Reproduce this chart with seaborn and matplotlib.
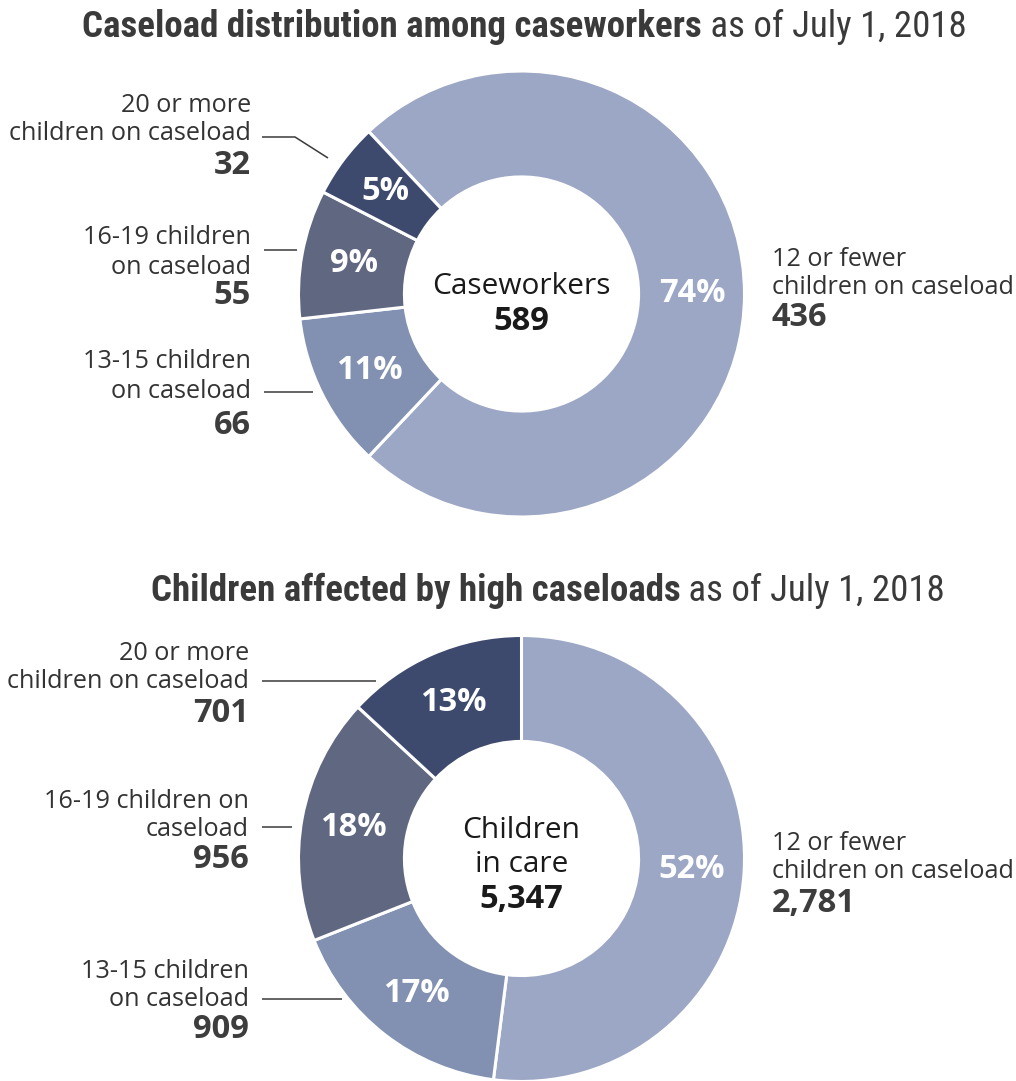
import matplotlib
matplotlib.use("Agg")
import matplotlib.pyplot as plt
import seaborn as sns
from matplotlib import font_manager

# ---- data -------------------------------------------------------------
caseworker_labels = [
    ["12 or fewer", "children on caseload"],
    ["13-15 children", "on caseload"],
    ["16-19 children", "on caseload"],
    ["20 or more", "children on caseload"],
]
caseworker_counts = [436, 66, 55, 32]

children_labels = [
    ["12 or fewer", "children on caseload"],
    ["13-15 children", "on caseload"],
    ["16-19 children on", "caseload"],
    ["20 or more", "children on caseload"],
]
children_counts = [2781, 909, 956, 701]

titles_bold = ["Caseload distribution among caseworkers",
               "Children affected by high caseloads"]
titles_regular = ["as of July 1, 2018", "as of July 1, 2018"]
center_titles = [["Caseworkers"], ["Children", "in care"]]

palette = ["#9CA7C5", "#8291B2", "#606780", "#3D4A6E"]

# ---- style ------------------------------------------------------------
sns.set_theme(style="white")
sns.set_palette(palette)
BODY = ["Open Sans", "DejaVu Sans"]
plt.rcParams["font.family"] = BODY

installed = {f.name for f in font_manager.fontManager.ttflist}
title_family = None
for cand in ["Roboto Condensed", "Liberation Sans Narrow", "Open Sans Condensed"]:
    if cand in installed:
        title_family = cand
        break
if title_family is None:
    title_family = "Roboto"
TITLE = [title_family, "DejaVu Sans"]

W, H = 1016, 1081
fig = plt.figure(figsize=(W / 100, H / 100), dpi=100)
fig.patch.set_facecolor("white")

# overlay in pixel coordinates for titles, labels and leader lines
ov = fig.add_axes([0, 0, 1, 1])
ov.set_xlim(0, W)
ov.set_ylim(H, 0)
ov.axis("off")

TXT = "#333333"
NUM = "#3d3d3d"


def donut(cx, cy, r, counts, start):
    ax = fig.add_axes([(cx - r) / W, (H - cy - r) / H, 2 * r / W, 2 * r / H])
    ax.pie(counts, colors=palette, startangle=start, counterclock=False,
           radius=1,
           wedgeprops=dict(width=0.475, edgecolor="white", linewidth=2.2),
           autopct=lambda p: f"{p:.0f}%", pctdistance=0.765,
           textprops=dict(color="white", fontsize=23.5, fontweight="bold",
                          family=BODY))
    ax.set_xlim(-1, 1)
    ax.set_ylim(-1, 1)
    ax.axis("off")
    return ax


def side_label(x, ys, lines, number, ha):
    for y, line in zip(ys[:-1], lines):
        ov.text(x, y, line, ha=ha, va="center", fontsize=18.2, color=TXT)
    ov.text(x, ys[-1], f"{number:,}", ha=ha, va="center", fontsize=23.5,
            fontweight="bold", color=NUM)


def leader(pts):
    xs, ys = zip(*pts)
    ov.plot(xs, ys, color="#3a3a3a", lw=1.1, solid_capstyle="butt")


# ---- top donut: caseworkers ------------------------------------------
tot1 = sum(caseworker_counts)
start1 = 360 * caseworker_counts[0] / tot1 / 2
donut(521.5, 294, 223, caseworker_counts, start1)
ov.text(521.5, 286, center_titles[0][0], ha="center", va="center",
        fontsize=21.5, color="#1a1a1a")
ov.text(521.5, 321, f"{tot1:,}", ha="center", va="center", fontsize=23.5,
        fontweight="bold", color="#1a1a1a")

side_label(772, [259, 287, 318], caseworker_labels[0], caseworker_counts[0], "left")
side_label(251, [361, 391, 425], caseworker_labels[1], caseworker_counts[1], "right")
side_label(251, [238, 267, 296], caseworker_labels[2], caseworker_counts[2], "right")
side_label(251, [106, 134, 166], caseworker_labels[3], caseworker_counts[3], "right")
leader([(262, 137), (295, 137), (328, 158)])
leader([(264, 250), (297, 250)])
leader([(264, 392), (313, 392)])

# ---- bottom donut: children ------------------------------------------
tot2 = sum(children_counts)
donut(521.5, 858.5, 223, children_counts, 90)
for y, line in zip([830, 864], center_titles[1]):
    ov.text(521.5, y, line, ha="center", va="center", fontsize=21.5,
            color="#1a1a1a")
ov.text(521.5, 899, f"{tot2:,}", ha="center", va="center", fontsize=23.5,
        fontweight="bold", color="#1a1a1a")

side_label(772, [843, 871, 903], children_labels[0], children_counts[0], "left")
side_label(249, [972, 999, 1030], children_labels[1], children_counts[1], "right")
side_label(249, [802, 829, 860], children_labels[2], children_counts[2], "right")
side_label(249, [654, 681, 714], children_labels[3], children_counts[3], "right")
leader([(262, 681), (376, 681)])
leader([(262, 827), (292, 827)])
leader([(262, 999), (342, 999)])

# ---- two-part titles -------------------------------------------------
fig.canvas.draw()
renderer = fig.canvas.get_renderer()


def title(cx, y, bold, regular, size):
    t1 = ov.text(0, y, bold, ha="left", va="center", fontsize=size,
                 fontweight="bold", family=TITLE, color="#3a3a3a")
    t2 = ov.text(0, y, " " + regular, ha="left", va="center", fontsize=size,
                 family=TITLE, color="#3a3a3a")
    w1 = t1.get_window_extent(renderer).width
    w2 = t2.get_window_extent(renderer).width
    x0 = cx - (w1 + w2) / 2
    t1.set_x(x0)
    t2.set_x(x0 + w1)
    return w1 + w2


# size chosen so the first title spans its full width
probe = ov.text(0, 0, titles_bold[0], fontsize=20, fontweight="bold", family=TITLE)
probe2 = ov.text(0, 0, " " + titles_regular[0], fontsize=20, family=TITLE)
wp = probe.get_window_extent(renderer).width + probe2.get_window_extent(renderer).width
probe.remove()
probe2.remove()
tsize = 20 * 882 / wp

title(524, 27, titles_bold[0], titles_regular[0], tsize)
title(548, 591, titles_bold[1], titles_regular[1], tsize)

fig.savefig("out.png", dpi=100, facecolor="white")
